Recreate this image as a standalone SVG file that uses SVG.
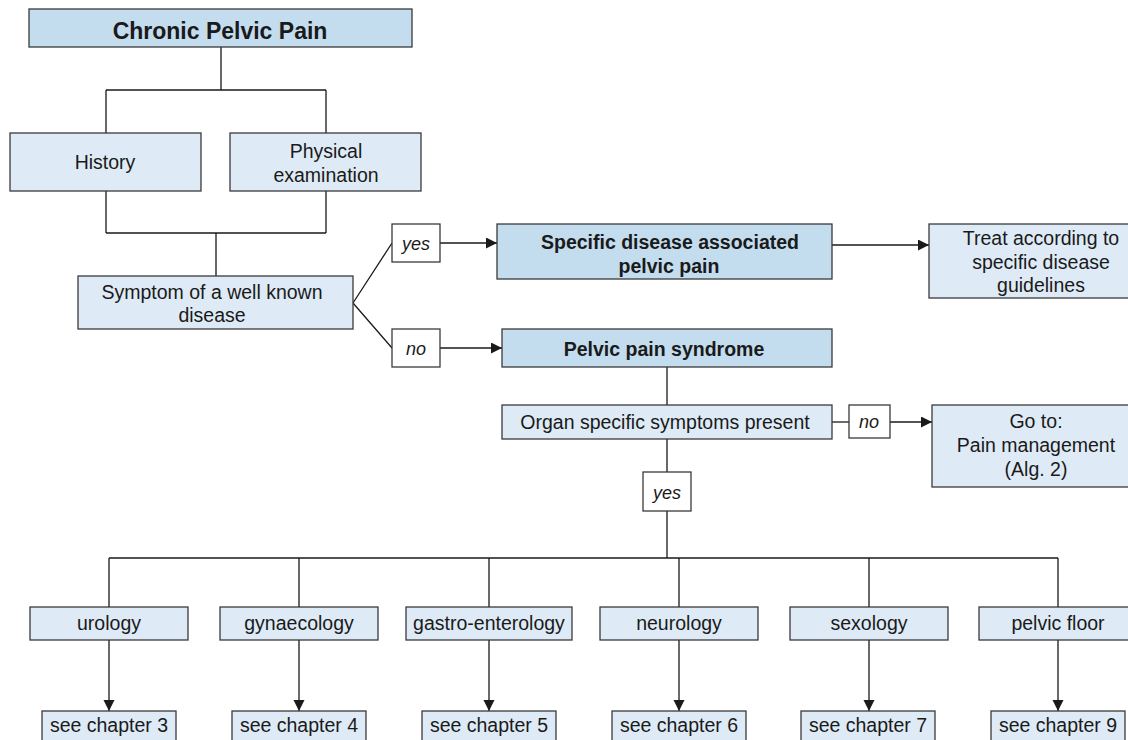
<svg xmlns="http://www.w3.org/2000/svg" width="1128" height="740" viewBox="0 0 1128 740">
  <style>
    .box { stroke: #3a3a3a; stroke-width: 1.3; }
    .dark { fill: #c3dcee; }
    .light { fill: #deebf6; }
    .tag { fill: #ffffff; stroke: #3a3a3a; stroke-width: 1.3; }
    .t { font-family: "Helvetica Neue", Helvetica, "Liberation Sans", Arial, sans-serif; font-size: 19.5px; fill: #1a1a1a; text-anchor: middle; }
    .b { font-weight: bold; }
    .title { font-size: 23px; }
    .i { font-style: italic; font-size: 18px; }
    .ln { fill: none; stroke: #1a1a1a; stroke-width: 1.3; }
  </style>
  <defs>
    <marker id="arrow" markerUnits="userSpaceOnUse" markerWidth="14" markerHeight="14" refX="11" refY="5.5" orient="auto">
      <path d="M0,0 L11,5.5 L0,11 Z" fill="#1a1a1a"/>
    </marker>
  </defs>
  <rect width="1128" height="740" fill="#ffffff"/>

  <!-- connectors -->
  <g id="connectors">
    <path class="ln" d="M221,47 V90 M106,90 H326 M106,90 V133 M326,90 V133"/>
    <path class="ln" d="M106,191 V233 M326,191 V233 M106,233 H326 M216,233 V276"/>
    <path class="ln" d="M353,303 L392,243 M353,303 L392,348"/>
    <path class="ln" d="M440,243 H497" marker-end="url(#arrow)"/>
    <path class="ln" d="M440,348 H502" marker-end="url(#arrow)"/>
    <path class="ln" d="M832,245 H929" marker-end="url(#arrow)"/>
    <path class="ln" d="M667,367 V405"/>
    <path class="ln" d="M832,422 H849"/>
    <path class="ln" d="M890,422 H932" marker-end="url(#arrow)"/>
    <path class="ln" d="M667,439 V472 M667,511 V558"/>
    <path class="ln" d="M109,558 H1058 M109,558 V607 M299,558 V607 M489,558 V607 M679,558 V607 M869,558 V607 M1058,558 V607"/>
    <path class="ln" d="M109,640 V711" marker-end="url(#arrow)"/>
    <path class="ln" d="M299,640 V711" marker-end="url(#arrow)"/>
    <path class="ln" d="M489,640 V711" marker-end="url(#arrow)"/>
    <path class="ln" d="M679,640 V711" marker-end="url(#arrow)"/>
    <path class="ln" d="M869,640 V711" marker-end="url(#arrow)"/>
    <path class="ln" d="M1058,640 V711" marker-end="url(#arrow)"/>
  </g>

  <g id="chronic-pelvic-pain">
    <rect class="box dark" x="29" y="9" width="383" height="38"/>
    <text class="t b title" x="220" y="39">Chronic Pelvic Pain</text>
  </g>
  <g id="history">
    <rect class="box light" x="10" y="133" width="191" height="58"/>
    <text class="t" x="105" y="169">History</text>
  </g>
  <g id="physical-examination">
    <rect class="box light" x="230" y="133" width="191" height="58"/>
    <text class="t" x="326" y="158">Physical</text>
    <text class="t" x="326" y="182">examination</text>
  </g>
  <g id="symptom">
    <rect class="box light" x="78" y="276" width="275" height="53"/>
    <text class="t" x="212" y="299">Symptom of a well known</text>
    <text class="t" x="212" y="322">disease</text>
  </g>
  <g id="tag-yes-1">
    <rect class="tag" x="392" y="224" width="48" height="38"/>
    <text class="t i" x="416" y="250">yes</text>
  </g>
  <g id="tag-no-1">
    <rect class="tag" x="392" y="329" width="48" height="38"/>
    <text class="t i" x="416" y="355">no</text>
  </g>
  <g id="specific-disease">
    <rect class="box dark" x="497" y="224" width="335" height="55"/>
    <text class="t b" x="670" y="249">Specific disease associated</text>
    <text class="t b" x="669" y="273">pelvic pain</text>
  </g>
  <g id="treat">
    <rect class="box light" x="929" y="224" width="224" height="74"/>
    <text class="t" x="1041" y="245">Treat according to</text>
    <text class="t" x="1041" y="269">specific disease</text>
    <text class="t" x="1041" y="292">guidelines</text>
  </g>
  <g id="pelvic-pain-syndrome">
    <rect class="box dark" x="502" y="329" width="330" height="38"/>
    <text class="t b" x="664" y="356">Pelvic pain syndrome</text>
  </g>
  <g id="organ-specific">
    <rect class="box light" x="502" y="405" width="330" height="34"/>
    <text class="t" x="665" y="429">Organ specific symptoms present</text>
  </g>
  <g id="tag-no-2">
    <rect class="tag" x="849" y="405" width="41" height="33"/>
    <text class="t i" x="869" y="428">no</text>
  </g>
  <g id="pain-management">
    <rect class="box light" x="932" y="405" width="210" height="82"/>
    <text class="t" x="1036" y="428">Go to:</text>
    <text class="t" x="1036" y="452">Pain management</text>
    <text class="t" x="1036" y="476">(Alg. 2)</text>
  </g>
  <g id="tag-yes-2">
    <rect class="tag" x="643" y="472" width="48" height="39"/>
    <text class="t i" x="667" y="499">yes</text>
  </g>

  <g id="urology">
    <rect class="box light" x="30" y="607" width="158" height="33"/>
    <text class="t" x="109" y="630">urology</text>
  </g>
  <g id="gynaecology">
    <rect class="box light" x="220" y="607" width="158" height="33"/>
    <text class="t" x="299" y="630">gynaecology</text>
  </g>
  <g id="gastro-enterology">
    <rect class="box light" x="406" y="607" width="166" height="33"/>
    <text class="t" x="489" y="630">gastro-enterology</text>
  </g>
  <g id="neurology">
    <rect class="box light" x="600" y="607" width="158" height="33"/>
    <text class="t" x="679" y="630">neurology</text>
  </g>
  <g id="sexology">
    <rect class="box light" x="790" y="607" width="158" height="33"/>
    <text class="t" x="869" y="630">sexology</text>
  </g>
  <g id="pelvic-floor">
    <rect class="box light" x="979" y="607" width="158" height="33"/>
    <text class="t" x="1058" y="630">pelvic floor</text>
  </g>

  <g id="chapter-3">
    <rect class="box light" x="42" y="711" width="134" height="32"/>
    <text class="t" x="109" y="732">see chapter 3</text>
  </g>
  <g id="chapter-4">
    <rect class="box light" x="232" y="711" width="134" height="32"/>
    <text class="t" x="299" y="732">see chapter 4</text>
  </g>
  <g id="chapter-5">
    <rect class="box light" x="422" y="711" width="134" height="32"/>
    <text class="t" x="489" y="732">see chapter 5</text>
  </g>
  <g id="chapter-6">
    <rect class="box light" x="612" y="711" width="134" height="32"/>
    <text class="t" x="679" y="732">see chapter 6</text>
  </g>
  <g id="chapter-7">
    <rect class="box light" x="801" y="711" width="134" height="32"/>
    <text class="t" x="868" y="732">see chapter 7</text>
  </g>
  <g id="chapter-9">
    <rect class="box light" x="991" y="711" width="134" height="32"/>
    <text class="t" x="1058" y="732">see chapter 9</text>
  </g>
</svg>
